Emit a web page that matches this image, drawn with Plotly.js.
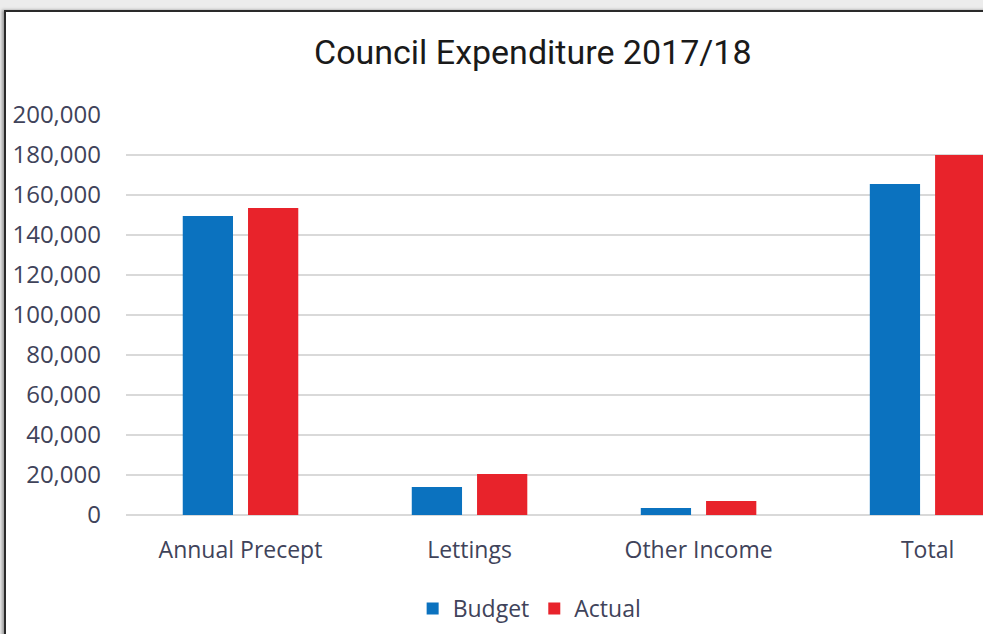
<!DOCTYPE html>
<html>
<head>
<meta charset="utf-8">
<script src="https://cdn.plot.ly/plotly-3.0.1.min.js"></script>
<style>
  html, body { margin: 0; padding: 0; width: 983px; height: 634px; overflow: hidden; background: #ececec; }
  #frame { position: absolute; left: 4px; top: 10px; width: 1000px; height: 640px; background: #ffffff;
           border-left: 2px solid #2a2a2a; border-top: 2px solid #2a2a2a; box-shadow: -2px 0 3px #999; }
  #chart { position: absolute; left: 0; top: 0; width: 983px; height: 634px; }
</style>
</head>
<body>
<div id="frame"></div>
<div id="chart"></div>
<script>
const categories = ["Annual Precept", "Lettings", "Other Income", "Total"];
const budget = [149500, 14000, 3500, 165500];
const actual = [153500, 20500, 7000, 180000];
const yTickValues = [0, 20000, 40000, 60000, 80000, 100000, 120000, 140000, 160000, 180000, 200000];
const yTickLabels = ["0", "20,000", "40,000", "60,000", "80,000", "100,000", "120,000", "140,000", "160,000", "180,000", "200,000"];

const labelColor = "#40435a";
const xFont = { family: "'Open Sans', sans-serif", size: 23, color: labelColor };
const yFont = { family: "'Open Sans', sans-serif", size: 24, color: labelColor };

const data = [
  { type: "bar", name: "Budget", x: categories, y: budget, marker: { color: "#0b72bf" } },
  { type: "bar", name: "Actual", x: categories, y: actual, marker: { color: "#e8232b" } }
];

const layout = {
  width: 983, height: 634,
  margin: { l: 126, r: 0, t: 115, b: 119 },
  paper_bgcolor: "rgba(0,0,0,0)",
  plot_bgcolor: "rgba(0,0,0,0)",
  title: {
    text: "Council Expenditure 2017/18",
    font: { family: "Roboto, 'Noto Sans', sans-serif", size: 34, color: "#1a1a1a" },
    x: 0.542, xanchor: "center", xref: "container",
    y: 0.918, yanchor: "middle", yref: "container"
  },
  barmode: "group",
  bargap: 0.43,
  bargroupgap: 0.23,
  xaxis: {
    type: "category",
    range: [-0.5, 3.242],
    showgrid: false, zeroline: false, showline: false,
    tickfont: xFont,
    ticks: "", ticklabelstandoff: 19,
    fixedrange: true
  },
  yaxis: {
    range: [0, 200000],
    tickvals: yTickValues, ticktext: yTickLabels,
    showgrid: true, gridcolor: "#d9d9d9", gridwidth: 1.5,
    zeroline: true, zerolinecolor: "#d9d9d9", zerolinewidth: 1.5,
    showline: false, ticks: "",
    tickfont: yFont,
    ticklabelstandoff: 24,
    fixedrange: true
  },
  showlegend: true,
  legend: {
    orientation: "h",
    x: 0.471, xanchor: "center",
    y: -0.18, yanchor: "top",
    font: xFont,
    itemwidth: 30,
    traceorder: "normal"
  }
};

Plotly.newPlot("chart", data, layout, { displayModeBar: false, staticPlot: true });
</script>
</body>
</html>
